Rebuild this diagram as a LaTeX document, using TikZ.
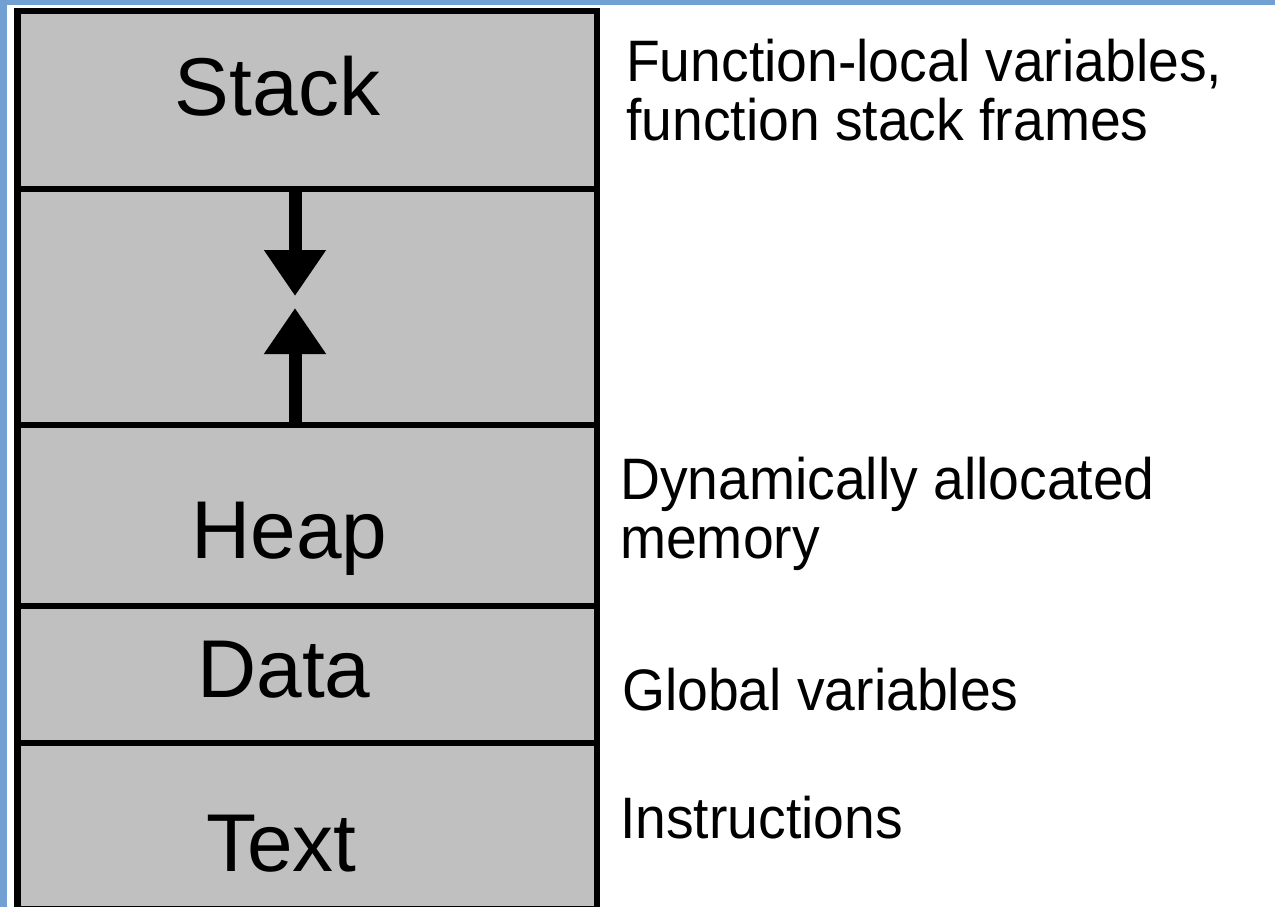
\documentclass[tikz,border=0pt]{standalone}
\usepackage{fontspec}
\setmainfont{Liberation Sans}
\newfontfamily\notefont[FakeStretch=0.945]{Liberation Sans}
\usetikzlibrary{arrows.meta,positioning}
\definecolor{segfill}{RGB}{192,192,192}
\definecolor{edgeblue}{RGB}{114,160,210}

\begin{document}
\begin{tikzpicture}[
    x=1pt, y=1pt,
    node distance=0pt,
    segment/.style={
        rectangle,
        draw,
        fill=segfill,
        line width=6.5pt,
        minimum width=579.5pt,
        inner sep=0pt,
        outer sep=0pt
    },
    seglabel/.style={anchor=base, inner sep=0pt, font=\fontsize{82}{82}\selectfont},
    note/.style={anchor=base west, inner sep=0pt, align=left, font=\notefont\fontsize{58.5}{59}\selectfont},
    growth/.style={line width=13pt, -{Triangle[length=46pt, width=59pt]}}
]
\useasboundingbox (0,0) rectangle (1275,-907);

% FRAME
\fill[edgeblue] (0,0) rectangle (1275,-5);
\fill[edgeblue] (0,0) rectangle (7,-907);

% SEGMENTS
\node[segment, minimum height=178pt] (stack) at (307.25,-100) {};
\node[segment, minimum height=236pt, below=of stack] (gap) {};
\node[segment, minimum height=181pt, below=of gap] (heap) {};
\node[segment, minimum height=137pt, below=of heap] (data) {};
\node[segment, minimum height=166pt, below=of data] (text) {};

% NAMES
\node[seglabel] (stacklbl) at (277.5,-115) {Stack};
\node[seglabel] (heaplbl) at (289.5,-558) {Heap};
\node[seglabel] (datalbl) at (284,-697) {Data};
\node[seglabel] (textlbl) at (281.5,-871) {Text};

% NOTES (base = last line)
\node[note] (stacknote) at (626,-140) {Function-local variables,\\function stack frames};
\node[note] (heapnote) at (620,-558) {Dynamically allocated\\memory};
\node[note] (datanote) at (622,-710) {Global variables};
\node[note] (textnote) at (620,-838) {Instructions};

% --- GROWTH ARROWS ---
\coordinate (meet) at (295,-302);
\draw[growth] (gap.north -| meet) -- ([yshift=6pt]meet);
\draw[growth] (gap.south -| meet) -- ([yshift=-6pt]meet);

\end{tikzpicture}
\end{document}
